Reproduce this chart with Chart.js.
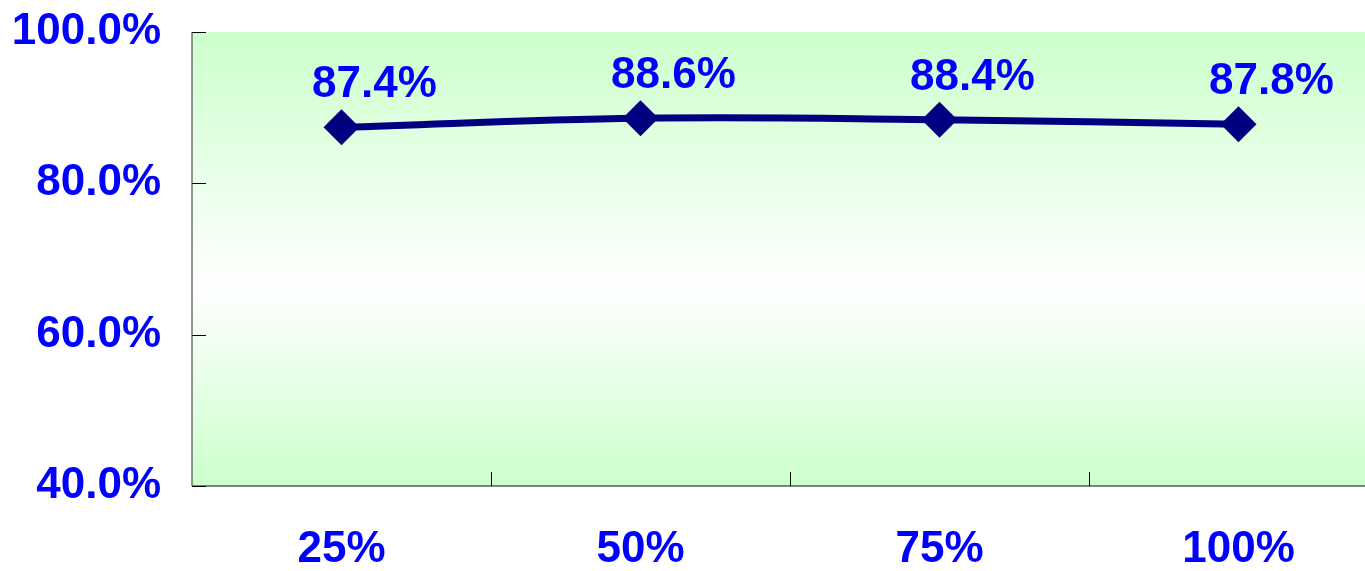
<!DOCTYPE html>
<html>
<head>
<meta charset="utf-8">
<script src="https://cdn.jsdelivr.net/npm/chart.js@4.4.0/dist/chart.umd.min.js"></script>
<style>
    html, body { margin: 0; padding: 0; background: #fff; overflow: hidden; }
    #wrap { position: relative; width: 1406px; height: 571px; }
</style>
</head>
<body>
<div id="wrap"><canvas id="rateChart"></canvas></div>
<script>
// Данные графика
const categories = ['25%', '50%', '75%', '100%'];
const rateValues = [87.4, 88.6, 88.4, 87.8];
const yTicks = [40, 60, 80, 100];

const fontFamily = '"Liberation Sans", Arial, sans-serif';
const labelFont = 'bold 44px ' + fontFamily;
const blue = '#0000FF';
const navy = '#000080';

// Градиентная заливка области графика
const plotBackground = {
    id: 'plotBackground',
    beforeDraw(chart) {
        const { ctx, chartArea: a } = chart;
        const g = ctx.createLinearGradient(0, a.top, 0, a.bottom);
        g.addColorStop(0, '#CCFFCC');
        g.addColorStop(0.56, '#FFFFFF');
        g.addColorStop(1, '#CCFFCC');
        ctx.save();
        ctx.fillStyle = g;
        ctx.fillRect(a.left, a.top, a.right - a.left, a.bottom - a.top);
        ctx.restore();
    }
};

// Оси и внутренние риски
const axisMarks = {
    id: 'axisMarks',
    afterDraw(chart) {
        const { ctx, chartArea: a } = chart;
        const x = chart.scales.x;
        const y = chart.scales.y;
        ctx.save();
        ctx.lineWidth = 1.5;
        ctx.strokeStyle = '#707070';
        ctx.beginPath();
        ctx.moveTo(a.left, a.top);
        ctx.lineTo(a.left, a.bottom);
        ctx.stroke();
        ctx.strokeStyle = '#4d5f4d';
        ctx.beginPath();
        ctx.moveTo(a.left, a.bottom);
        ctx.lineTo(a.right, a.bottom);
        ctx.stroke();

        ctx.lineWidth = 1;
        ctx.strokeStyle = '#000';
        yTicks.forEach(v => {
            const py = Math.round(y.getPixelForValue(v)) + 0.5;
            ctx.beginPath();
            ctx.moveTo(a.left, py);
            ctx.lineTo(a.left + 14, py);
            ctx.stroke();
        });
        const half = (x.getPixelForValue(1) - x.getPixelForValue(0)) / 2;
        for (let i = 1; i < categories.length; i++) {
            const px = Math.round(x.getPixelForValue(i) - half) + 0.5;
            ctx.beginPath();
            ctx.moveTo(px, a.bottom);
            ctx.lineTo(px, a.bottom - 14);
            ctx.stroke();
        }
        ctx.restore();
    }
};

// Подписи значений над точками
const valueLabels = {
    id: 'valueLabels',
    afterDatasetsDraw(chart) {
        const { ctx } = chart;
        const meta = chart.getDatasetMeta(0);
        ctx.save();
        ctx.font = labelFont;
        ctx.fillStyle = blue;
        ctx.textAlign = 'center';
        ctx.textBaseline = 'middle';
        meta.data.forEach((pt, i) => {
            ctx.fillText(rateValues[i].toFixed(1) + '%', pt.x + 33, pt.y - 42);
        });
        ctx.restore();
    }
};

new Chart(document.getElementById('rateChart'), {
    type: 'line',
    data: {
        labels: categories,
        datasets: [{
            data: rateValues,
            borderColor: navy,
            backgroundColor: navy,
            borderWidth: 7,
            tension: 0.4,
            pointStyle: 'rectRot',
            pointRadius: 18,
            pointHoverRadius: 18,
            pointBorderWidth: 0,
            pointBackgroundColor: navy,
            clip: false
        }]
    },
    options: {
        responsive: true,
        maintainAspectRatio: false,
        animation: false,
        layout: { padding: { top: 32, right: 4, left: 0, bottom: 0 } },
        plugins: {
            legend: { display: false },
            tooltip: { enabled: false }
        },
        scales: {
            x: {
                offset: true,
                grid: { display: false, drawTicks: false },
                border: { display: false },
                ticks: {
                    color: blue,
                    padding: 37,
                    font: { family: fontFamily, size: 44, weight: 'bold' }
                },
                afterFit: s => { s.height = 85; s.paddingLeft = 0; s.paddingRight = 0; }
            },
            y: {
                min: 40,
                max: 100,
                grid: { display: false, drawTicks: false },
                border: { display: false },
                afterBuildTicks: s => { s.ticks = yTicks.map(v => ({ value: v })); },
                ticks: {
                    color: blue,
                    padding: 31,
                    font: { family: fontFamily, size: 44, weight: 'bold' },
                    callback: v => v.toFixed(1) + '%'
                },
                afterFit: s => { s.width = 192; s.paddingTop = 0; s.paddingBottom = 0; }
            }
        }
    },
    plugins: [plotBackground, axisMarks, valueLabels]
});
</script>
</body>
</html>
